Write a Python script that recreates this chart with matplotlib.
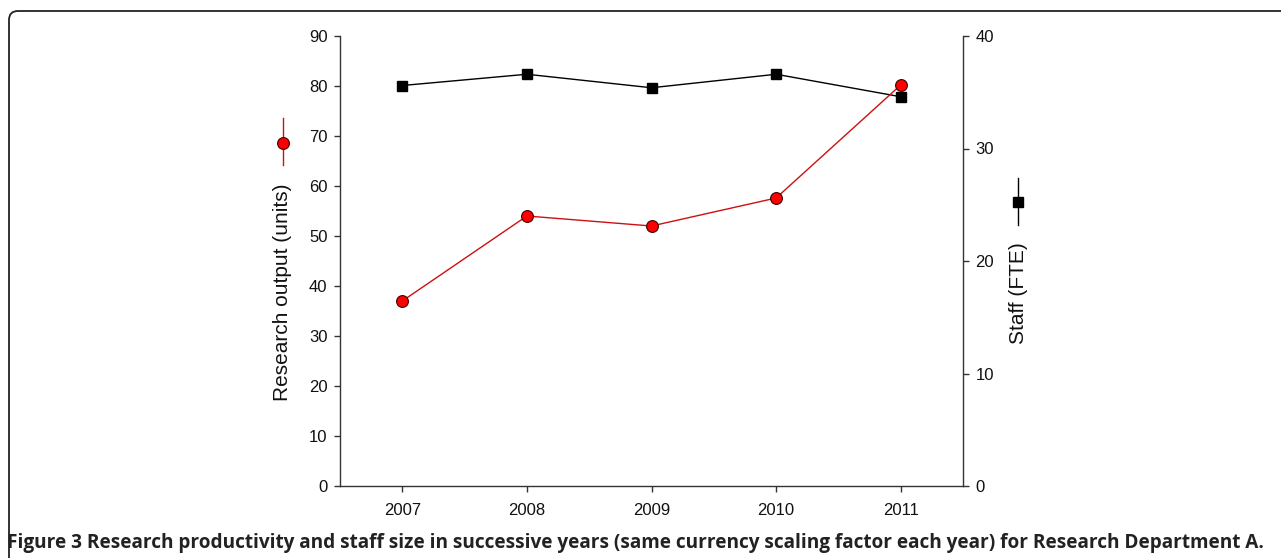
import matplotlib
matplotlib.use('Agg')
import matplotlib.pyplot as plt
from matplotlib.lines import Line2D
from matplotlib.patches import FancyBboxPatch

years = [2007, 2008, 2009, 2010, 2011]
output_units = [37, 54, 52, 57.6, 80.2]
staff_fte = [35.6, 36.6, 35.4, 36.6, 34.6]

caption = ('Figure 3 Research productivity and staff size in successive years '
           '(same currency scaling factor each year) for Research Department A.')

W, H = 1281, 558
plt.rcParams['font.family'] = ['Liberation Sans', 'DejaVu Sans']

fig = plt.figure(figsize=(W / 100, H / 100), dpi=100)
ax = fig.add_axes([340 / W, 1 - 486 / H, (963 - 340) / W, (486 - 36) / H])
ax2 = ax.twinx()

axcol = '#333333'
# staff (right axis)
ax2.plot(years, staff_fte, color='black', lw=1.0, marker='s', ms=7.5,
         mfc='black', mec='black', clip_on=False)
# research output (left axis)
ax.plot(years, output_units, color='#cc1010', lw=1.0, marker='o', ms=8.5,
        mfc='#ff0000', mec='#400000', mew=0.8, clip_on=False)
ax.set_zorder(ax2.get_zorder() + 1)
ax.patch.set_visible(False)

ax.set_xlim(2006.5, 2011.5)
ax.set_ylim(0, 90)
ax2.set_ylim(0, 40)
ax.set_xticks(years)
ax.set_xticklabels([str(y) for y in years])
ax.set_yticks(range(0, 91, 10))
ax2.set_yticks(range(0, 41, 10))

for a in (ax, ax2):
    a.spines['top'].set_visible(False)
    for s in a.spines.values():
        s.set_color(axcol)
        s.set_linewidth(1.0)
    a.tick_params(direction='out', length=4, width=1, color=axcol,
                  labelsize=12, labelcolor='#111111', pad=5)
ax2.spines['left'].set_visible(False)
ax2.spines['bottom'].set_visible(False)
ax.spines['right'].set_visible(False)
ax.tick_params(axis='x', pad=8)

# axis titles
fig.text(283 / W, 1 - 292 / H, 'Research output (units)', rotation=90,
         ha='center', va='center', fontsize=15, color='#111111')
fig.text(1019 / W, 1 - 293 / H, 'Staff (FTE)', rotation=90,
         ha='center', va='center', fontsize=15, color='#111111')

# axis legend glyphs
tf = fig.transFigure
fig.add_artist(Line2D([283 / W, 283 / W], [1 - 118 / H, 1 - 165 / H],
                      color='#cc1010', lw=1.0, transform=tf))
fig.add_artist(Line2D([283 / W], [1 - 143 / H], marker='o', ms=8.5,
                      mfc='#ff0000', mec='#400000', mew=0.8, transform=tf))
fig.add_artist(Line2D([1018 / W, 1018 / W], [1 - 178 / H, 1 - 225 / H],
                      color='black', lw=1.0, transform=tf))
fig.add_artist(Line2D([1018 / W], [1 - 202 / H], marker='s', ms=7.5,
                      mfc='black', mec='black', transform=tf))

# border box
fig.add_artist(FancyBboxPatch((9 / W, -0.2), 1.3, 1 - 11 / H + 0.2,
                              boxstyle='round,pad=0,rounding_size=0.007',
                              transform=tf, fill=False, ec='#222222', lw=1.3,
                              mutation_aspect=W / H))

# caption
fig.text(7 / W, 1 - 548 / H, caption, fontsize=13.7, fontweight='bold',
         family=['Open Sans', 'DejaVu Sans'], color='#222222')

fig.savefig('out.png', dpi=100)
